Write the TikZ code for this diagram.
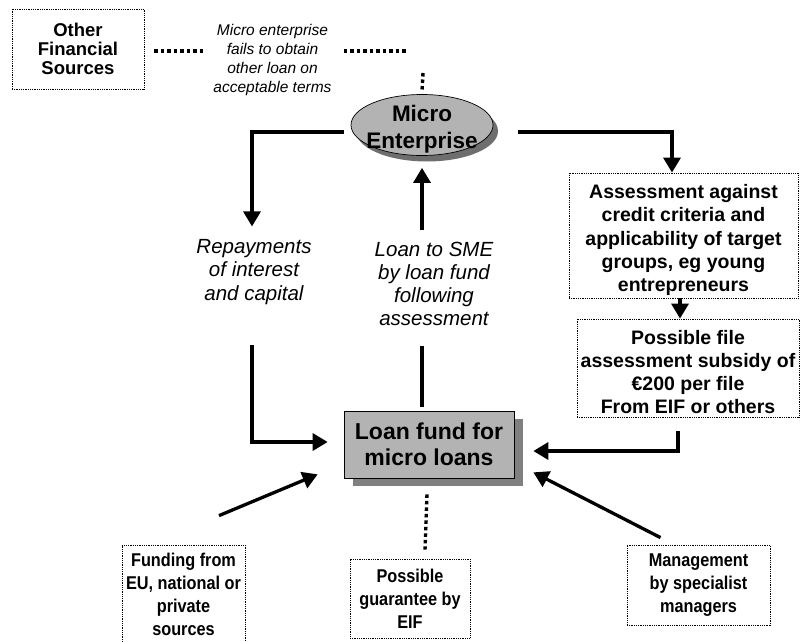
\documentclass[tikz,border=0pt]{standalone}
\usepackage{fontspec}
\setmainfont{Liberation Sans}
\newfontfamily\narrowsans[FakeStretch=0.88]{Liberation Sans}
\usetikzlibrary{arrows.meta,shapes.geometric,shadows,calc}

\definecolor{fillgray}{HTML}{B3B3B3}
\definecolor{shadowgray}{HTML}{808080}
\definecolor{ovalshadow}{HTML}{6E6E6E}

\newcommand\boxfont{\bfseries\fontsize{19.5}{23.2}\selectfont}
\newcommand\footboxfont{\narrowsans\bfseries\fontsize{18.5}{23.2}\selectfont}
\newcommand\smallboxfont{\bfseries\fontsize{18.5}{18.7}\selectfont}
\newcommand\notefont{\itshape\fontsize{15.5}{18.7}\selectfont}
\newcommand\labelfont{\itshape\fontsize{20.5}{23.2}\selectfont}
\newcommand\bigfont{\bfseries\fontsize{22.5}{26.5}\selectfont}

\tikzset{
  fbox/.style={draw, line width=0.8pt, dash pattern=on 0.9pt off 0.9pt,
    align=center, inner sep=0pt, font=\boxfont},
  label/.style={align=center, inner sep=0pt},
  conn/.style={line width=3.3pt, -{Triangle[length=15pt,width=17pt]}},
  bar/.style={line width=3.3pt},
  dots/.style={line width=3.4pt, dash pattern=on 3.5pt off 3pt},
}

\begin{document}
\begin{tikzpicture}[x=1pt,y=-1pt]
\useasboundingbox (0,0) rectangle (800,642);

% ---- top row ----
\node[fbox, font=\smallboxfont, minimum width=132pt, minimum height=80pt] (ofs) at (78,49)
  {Other\\Financial\\Sources};
\node[label, font=\notefont] (fail) at (272.5,60)
  {Micro enterprise\\fails to obtain\\other loan on\\acceptable terms};
\coordinate (dl) at (154,51);
\coordinate (dr) at (407,51);
\coordinate (dv) at (423,73);
\draw[dots] (dl) -- ($(fail.west |- dl)+(-8,0)$);
\draw[dots] ($(fail.east |- dr)+(12,0)$) -- (dr);

% ---- micro enterprise ----
\node[ellipse, draw, line width=0.7pt, fill=fillgray, minimum width=142pt, minimum height=61pt,
  inner sep=0pt, drop shadow={shadow xshift=5pt, shadow yshift=-6pt, fill=ovalshadow, opacity=1}]
  (me) at (422,125) {};
\node[label, font=\bigfont] (metext) at (422,129) {Micro\\Enterprise};
\draw[dots] (dv) -- ($(me.north)+(0,-3)$);

% ---- annotations on the loan cycle ----
\node[label, font=\labelfont] (rep) at (254,272) {Repayments\\of interest\\and capital};
\node[label, font=\labelfont] (lts) at (434,284) {Loan to SME\\by loan fund\\following\\assessment};

% ---- loan fund ----
\node[draw, line width=0.7pt, fill=fillgray, minimum width=170pt, minimum height=67pt,
  align=center, inner sep=0pt, font=\bfseries\fontsize{23}{26.5}\selectfont,
  drop shadow={shadow xshift=9pt, shadow yshift=-8pt, fill=shadowgray, opacity=1}]
  (lf) at (429,444.5) {Loan fund for\\micro loans};

% ---- assessment column ----
\node[fbox, minimum width=229pt, minimum height=125pt] (asm) at (683.5,235.5) {};
\node[label, font=\boxfont] (asmtext) at (683.5,240)
  {Assessment against\\credit criteria and\\applicability of target\\groups, eg young\\entrepreneurs};
\node[fbox, minimum width=222pt, minimum height=98pt] (pf) at (688,368) {};
\node[label, font=\boxfont] (pftext) at (688,372)
  {Possible file\\assessment subsidy of\\€200 per file\\From EIF or others};

% ---- bottom row ----
\node[fbox, font=\footboxfont, minimum width=123pt, minimum height=99pt] (fund) at (183.5,594.5)
  {Funding from\\EU, national or\\private\\sources};
\node[fbox, font=\footboxfont, minimum width=120pt, minimum height=79pt] (guar) at (410,598.5)
  {Possible\\guarantee by\\EIF};
\node[fbox, font=\footboxfont, minimum width=143pt, minimum height=80pt] (mgmt) at (698.5,585)
  {Management\\by specialist\\managers};

% ---- connectors ----
\draw[conn] ($(me.west)+(-7,7)$) -| ($(rep.north)+(-2,-13)$);
\draw[conn] ($(me.east)+(25,7)$) -| ($(asm.north)+(-11.5,0)$);
\draw[conn] ($(me.south |- lts.north)+(0,-12)$) -- ($(me.south)+(0,12)$);
\draw[bar] ($(me.south |- lts.south)+(0,20)$) -- ($(me.south |- lf.north)+(0,-4)$);
\draw[conn] ($(rep.south)+(-2,40)$) |- ($(lf.west)+(-16,-2.5)$);
\draw[conn] ($(asm.south)+(-3.5,0)$) -- ($(pf.north)+(-8,0)$);
\draw[conn] ($(pf.south)+(-10,14)$) |- ($(lf.east)+(19,6.5)$);
\draw[dots] ($(lf.south)+(-2,16)$) -- ($(guar.north)+(15,-9)$);
\draw[conn] ($(fund.north)+(35.5,-29)$) -- ($(lf.south west)+(-26,-4)$);
\draw[conn] ($(mgmt.north)+(-38,-7)$) -- ($(lf.south east)+(19,-6)$);
\end{tikzpicture}
\end{document}
